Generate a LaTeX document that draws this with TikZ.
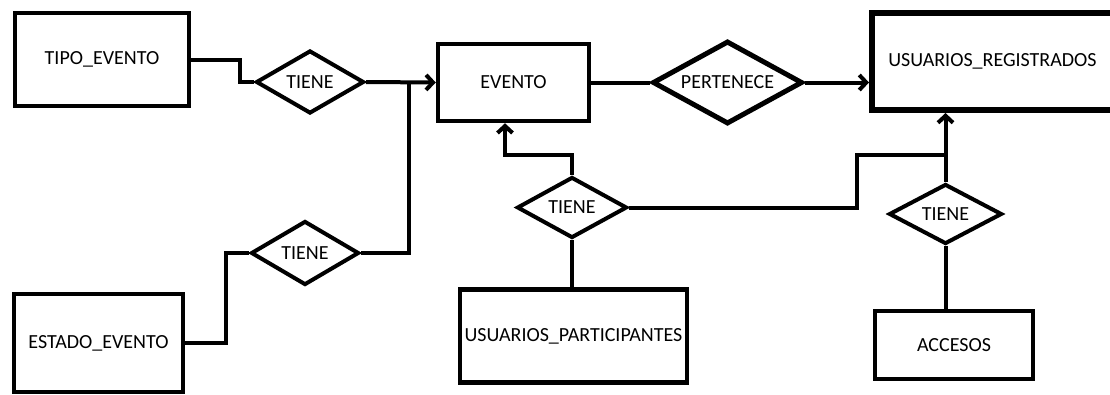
\documentclass[tikz,border=0pt]{standalone}
\usepackage{fontspec}
\setmainfont{Carlito}
\usetikzlibrary{shapes.geometric,arrows.meta}
\tikzset{
  entity/.style={draw, rectangle, line width=4.5pt, inner sep=0pt, font=\fontsize{20}{24}\selectfont},
  relation/.style={draw, diamond, line width=4pt, inner sep=0pt, aspect=2, font=\fontsize{20}{24}\selectfont},
  conn/.style={line width=4pt},
  arr/.style={conn, -{Straight Barb[length=7pt,width=15pt]}},
}
\begin{document}
\begin{tikzpicture}[x=1pt,y=-1pt]
\useasboundingbox (0,0) rectangle (1110,394);
\clip (0,0) rectangle (1110,394);
\fill[white] (0,0) rectangle (1110,394);
% entities
\node[entity, minimum width=174pt, minimum height=93pt] (tipo) at (102,59.5) {TIPO\_EVENTO};
\node[entity, minimum width=169pt, minimum height=98pt] (estado) at (98.5,343) {ESTADO\_EVENTO};
\node[entity, minimum width=151pt, minimum height=77pt] (evento) at (513.5,82.5) {EVENTO};
\node[entity, minimum width=227pt, minimum height=93pt] (uspart) at (573.5,336) {USUARIOS\_PARTICIPANTES};
\node[entity, minimum width=158pt, minimum height=68pt] (acc) at (954,345) {ACCESOS};
\node[entity, line width=6pt, minimum width=241pt, minimum height=97pt] (usreg) at (992.5,61.5) {USUARIOS\_REGISTRADOS};
% relations
\node[relation, minimum width=108pt, minimum height=63pt] (t1) at (310,82) {TIENE};
\node[relation, minimum width=108pt, minimum height=64pt] (t2) at (305,253) {TIENE};
\node[relation, minimum width=110pt, minimum height=61pt] (t3) at (572,207.5) {TIENE};
\node[relation, minimum width=113pt, minimum height=60pt] (t4) at (945.5,214) {TIENE};
\node[relation, line width=5pt, minimum width=150pt, minimum height=83pt] (pert) at (727.5,82.5) {PERTENECE};
% helper coordinates
\coordinate (b1) at (240,0);
\coordinate (b2) at (226,0);
\coordinate (j) at (409,82);
\coordinate (e1) at (505,155);
\coordinate (r1) at (857,155);
% connectors
\draw[conn] (tipo.east) -| (b1 |- t1.west) -- (t1.west);
\draw[arr] (t1.east) -- (evento.west);
\draw[conn] (t2.east) -| (j);
\draw[conn] (estado.east) -| (b2 |- t2.west) -- (t2.west);
\draw[conn] (evento.east) -- (pert.west);
\draw[arr] (pert.east) -- (pert.east -| usreg.west);
\draw[arr] (t3.north) |- (e1) -- (e1 |- evento.south);
\draw[conn] (t3.east) -| (r1) -- (r1 -| t4.north);
\draw[arr] (t4.north) -- (t4.north |- usreg.south);
\draw[conn] (t3.south) -- (t3.south |- uspart.north);
\draw[conn] (t4.south) -- (t4.south |- acc.north);
\end{tikzpicture}
\end{document}
